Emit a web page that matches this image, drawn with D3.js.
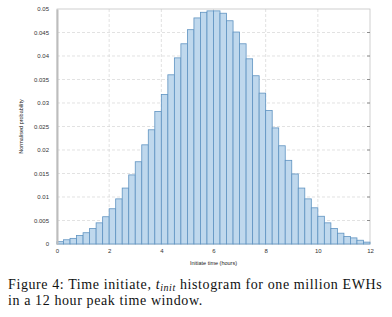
<!DOCTYPE html>
<html>
<head>
<meta charset="UTF-8" />
<script src="https://d3js.org/d3.v7.min.js"></script>
<style>
  body { margin: 0; background: #fff; }
  svg { display: block; }
  .tick text { font-family: "Liberation Sans", Arial, sans-serif; font-size: 6px; fill: #333; }
  .caption { font-family: "Liberation Serif", "Times New Roman", serif; font-size: 14px; fill: #111; letter-spacing: 0.6px; }
</style>
</head>
<body>
<svg width="392" height="317"></svg>
<script>
  // normalised probability per quarter-hour bin (0 to 12 h)
  const binWidth = 0.25;
  const probs = [
    0.0005, 0.0009, 0.0012, 0.0018, 0.0024, 0.0033, 0.0045, 0.0058,
    0.0075, 0.0096, 0.0119, 0.0147, 0.0175, 0.0211, 0.0243, 0.0282,
    0.0318, 0.0360, 0.0396, 0.0426, 0.0456, 0.0481, 0.0493, 0.0496,
    0.0496, 0.0491, 0.0475, 0.0451, 0.0426, 0.0394, 0.0358, 0.0321,
    0.0284, 0.0247, 0.0209, 0.0178, 0.0149, 0.0119, 0.0096, 0.0077,
    0.0059, 0.0045, 0.0033, 0.0023, 0.0016, 0.0013, 0.0008, 0.0004
  ];
  const xTicks = [0, 2, 4, 6, 8, 10, 12];
  const yTicks = [0, 0.005, 0.01, 0.015, 0.02, 0.025, 0.03, 0.035, 0.04, 0.045, 0.05];

  const svg = d3.select("svg");
  const mLeft = 57, mRight = 370, mTop = 9, mBottom = 244;

  const x = d3.scaleLinear().domain([0, 12]).range([mLeft, mRight]);
  const y = d3.scaleLinear().domain([0, 0.05]).range([mBottom, mTop]);

  // grille pointillée
  svg.append("g").selectAll("line")
    .data(yTicks.slice(1, -1))
    .join("line")
    .attr("x1", mLeft).attr("x2", mRight)
    .attr("y1", d => y(d)).attr("y2", d => y(d))
    .attr("stroke", "#d6d6d6").attr("stroke-width", 0.7)
    .attr("stroke-dasharray", "3,2");
  svg.append("g").selectAll("line")
    .data(xTicks.slice(1, -1))
    .join("line")
    .attr("x1", d => x(d)).attr("x2", d => x(d))
    .attr("y1", mTop).attr("y2", mBottom)
    .attr("stroke", "#d6d6d6").attr("stroke-width", 0.7)
    .attr("stroke-dasharray", "3,2");

  // cadre
  svg.append("rect")
    .attr("x", mLeft).attr("y", mTop)
    .attr("width", mRight - mLeft).attr("height", mBottom - mTop)
    .attr("fill", "none").attr("stroke", "#c4c4c4").attr("stroke-width", 0.8);

  // barres
  svg.append("g").selectAll("rect")
    .data(probs)
    .join("rect")
    .attr("x", (d, i) => x(i * binWidth))
    .attr("y", d => y(d))
    .attr("width", x(binWidth) - x(0))
    .attr("height", d => y(0) - y(d))
    .attr("fill", "#bfd8ed")
    .attr("stroke", "#5f93c1")
    .attr("stroke-width", 0.8);

  // axes
  const xAxis = svg.append("g")
    .attr("transform", `translate(0,${mBottom})`)
    .call(d3.axisBottom(x).tickValues(xTicks).tickSize(0).tickPadding(5).tickFormat(d3.format("d")));
  xAxis.select(".domain").remove();

  const yAxis = svg.append("g")
    .attr("transform", `translate(${mLeft},0)`)
    .call(d3.axisLeft(y).tickValues(yTicks).tickSize(0).tickPadding(8).tickFormat(d => d === 0 ? "0" : String(+d.toFixed(3))));
  yAxis.select(".domain").attr("stroke", "#bdbdbd").attr("stroke-width", 2);

  // petites graduations à droite
  svg.append("g").selectAll("line")
    .data(yTicks.slice(1, -1))
    .join("line")
    .attr("x1", mRight - 3).attr("x2", mRight)
    .attr("y1", d => y(d)).attr("y2", d => y(d))
    .attr("stroke", "#777").attr("stroke-width", 0.8);

  svg.append("text")
    .attr("x", (mLeft + mRight) / 2).attr("y", 265)
    .attr("text-anchor", "middle")
    .style("font-family", "Liberation Sans, Arial, sans-serif")
    .style("font-size", "5.5px").attr("fill", "#222")
    .text("Initiate time (hours)");

  svg.append("text")
    .attr("transform", `translate(23,${(mTop + mBottom) / 2}) rotate(-90)`)
    .attr("text-anchor", "middle")
    .style("font-family", "Liberation Sans, Arial, sans-serif")
    .style("font-size", "5.5px").attr("fill", "#222")
    .text("Normalised probability");

  // légende de la figure
  const cap1 = svg.append("text").attr("class", "caption").attr("x", 8).attr("y", 289);
  cap1.append("tspan").text("Figure 4: Time initiate, ");
  cap1.append("tspan").style("font-style", "italic").text("t");
  cap1.append("tspan").style("font-style", "italic").style("font-size", "10px").attr("dy", 2).text("init");
  cap1.append("tspan").attr("dy", -2).text(" histogram for one million EWHs");
  svg.append("text").attr("class", "caption").attr("x", 8).attr("y", 305)
    .text("in a 12 hour peak time window.");
</script>
</body>
</html>
